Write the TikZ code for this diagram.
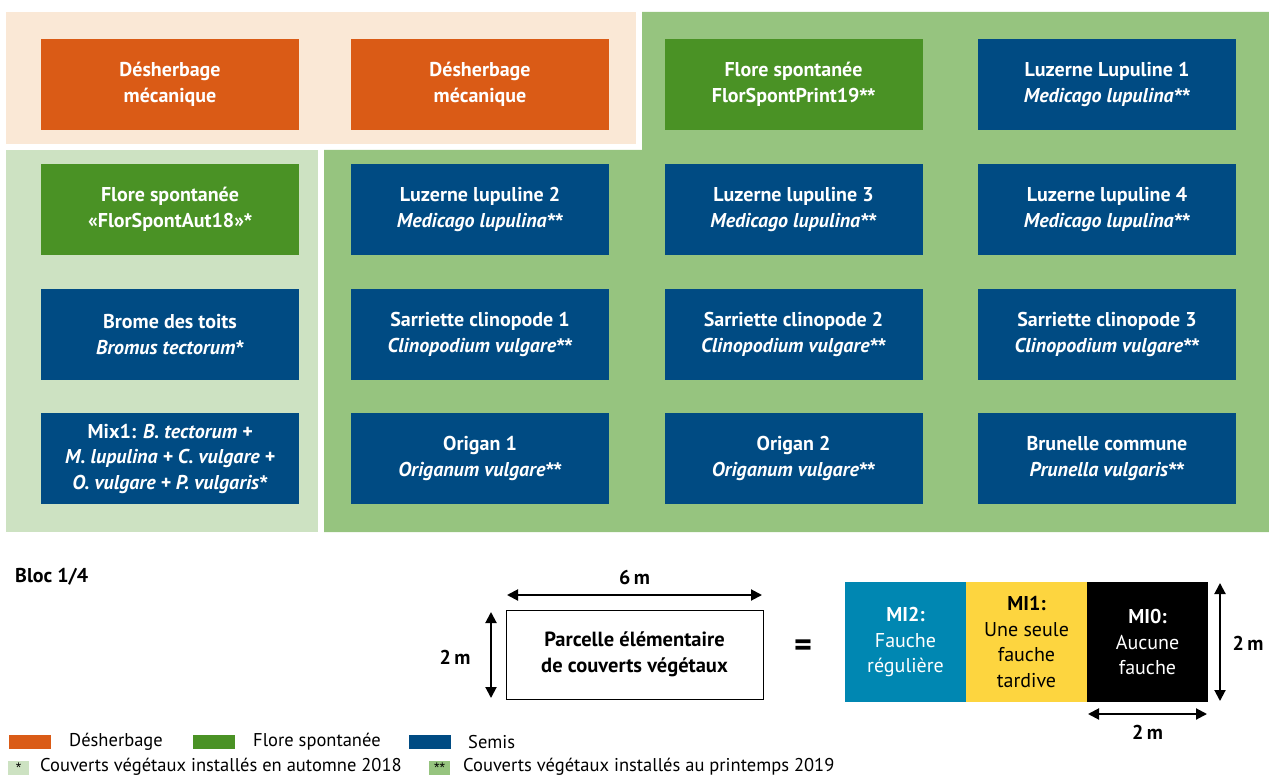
\documentclass[tikz,border=0pt]{standalone}
\usepackage{fontspec}
\setmainfont{PT Sans}
\newfontfamily\astfont{Liberation Sans}
\newcommand{\st}{{\astfont*}}
\usetikzlibrary{arrows.meta}
\definecolor{cOrange}{HTML}{DA5B16}
\definecolor{cGreen}{HTML}{4A9225}
\definecolor{cBlue}{HTML}{004B83}
\definecolor{cPeach}{HTML}{FAE8D6}
\definecolor{cLight}{HTML}{CDE2C2}
\definecolor{cDark}{HTML}{96C47F}
\definecolor{cMI}{HTML}{0087B2}
\definecolor{cYellow}{HTML}{FDD53F}
\tikzset{
  cell/.style={minimum width=258pt, minimum height=91pt, inner sep=0pt, align=center, text=white,
    font=\fontsize{20}{25.5}\selectfont\bfseries},
  dim/.style={line width=2pt, {Triangle[length=11pt,width=11pt]}-{Triangle[length=11pt,width=11pt]}},
  lbl/.style={font=\fontsize{20}{22}\selectfont\bfseries, inner sep=0pt},
  leg/.style={font=\fontsize{18.5}{20}\selectfont, inner sep=0pt, anchor=west},
  mi/.style={minimum width=121pt, minimum height=120pt, inner sep=0pt, align=center,
    font=\fontsize{20}{25.5}\selectfont},
}
\begin{document}
\begin{tikzpicture}[x=1pt,y=-1pt]
\useasboundingbox (0,0) rectangle (1269,778);
% backgrounds
\fill[cPeach] (6,12) rectangle (636,144);
\fill[cDark] (642,12) -- (1269,12) -- (1269,532) -- (324,532) -- (324,150) -- (642,150) -- cycle;
\fill[cLight] (6,150) rectangle (318,532);
% row 1
\node[cell, fill=cOrange] (d1) at (170,84.5) {Désherbage\\mécanique};
\node[cell, fill=cOrange] (d2) at (480,84.5) {Désherbage\\mécanique};
\node[cell, fill=cGreen] (f19) at (793.5,84.5) {Flore spontanée\\FlorSpontPrint19\st\st};
\node[cell, fill=cBlue] (l1) at (1107,84.5) {Luzerne Lupuline 1\\\textit{Medicago lupulina\st\st}};
% row 2
\node[cell, fill=cGreen] (f18) at (170,209.5) {Flore spontanée\\«FlorSpontAut18»\st};
\node[cell, fill=cBlue] (l2) at (480,209.5) {Luzerne lupuline 2\\\textit{Medicago lupulina\st\st}};
\node[cell, fill=cBlue] (l3) at (793.5,209.5) {Luzerne lupuline 3\\\textit{Medicago lupulina\st\st}};
\node[cell, fill=cBlue] (l4) at (1107,209.5) {Luzerne lupuline 4\\\textit{Medicago lupulina\st\st}};
% row 3
\node[cell, fill=cBlue] (b) at (170,334.5) {Brome des toits\\\textit{Bromus tectorum\st}};
\node[cell, fill=cBlue] (s1) at (480,334.5) {Sarriette clinopode 1\\\textit{Clinopodium vulgare\st\st}};
\node[cell, fill=cBlue] (s2) at (793.5,334.5) {Sarriette clinopode 2\\\textit{Clinopodium vulgare\st\st}};
\node[cell, fill=cBlue] (s3) at (1107,334.5) {Sarriette clinopode 3\\\textit{Clinopodium vulgare\st\st}};
% row 4
\node[cell, fill=cBlue] (mix) at (170,458.5) {Mix1: \textit{B. tectorum +}\\\textit{M. lupulina + C. vulgare +}\\\textit{O. vulgare + P. vulgaris\st}};
\node[cell, fill=cBlue] (o1) at (480,458.5) {Origan 1\\\textit{Origanum vulgare\st\st}};
\node[cell, fill=cBlue] (o2) at (793.5,458.5) {Origan 2\\\textit{Origanum vulgare\st\st}};
\node[cell, fill=cBlue] (pr) at (1107,458.5) {Brunelle commune\\\textit{Prunella vulgaris\st\st}};
% bottom
\node[lbl, anchor=west] (bloc) at (15,577) {Bloc 1/4};
\node[draw=black, line width=1pt, minimum width=257pt, minimum height=89pt, inner sep=0pt, align=center,
  font=\fontsize{20.5}{25.5}\selectfont\bfseries] (parc) at (634.5,654.5) {Parcelle élémentaire\\de couverts végétaux};
\coordinate (h1) at (507,595); \coordinate (h2) at (762,595);
\draw[dim] (h1) -- (h2);
\node[lbl] (six) at (634.5,577) {6\,m};
\coordinate (v1) at (491,612); \coordinate (v2) at (491,698);
\draw[dim] (v1) -- (v2);
\node[lbl] (twoA) at (455,657) {2\,m};
\node[font=\fontsize{34}{34}\selectfont\bfseries, inner sep=0pt] (eq) at (803,648) {=};
\node[mi, fill=cMI, text=white] (mi2) at (905.5,642) {\textbf{MI2:}\\Fauche\\régulière};
\node[mi, fill=cYellow, text=black] (mi1) at (1026.5,642) {\textbf{MI1:}\\Une seule\\fauche\\tardive};
\node[mi, fill=black, text=white] (mi0) at (1147.5,642) {\textbf{MI0:}\\Aucune\\fauche};
\coordinate (r1) at (1220,583); \coordinate (r2) at (1220,701);
\draw[dim] (r1) -- (r2);
\node[lbl] (twoB) at (1248,643) {2\,m};
\coordinate (b1) at (1088,714); \coordinate (b2) at (1207,714);
\draw[dim] (b1) -- (b2);
\node[lbl] (twoC) at (1147.5,732) {2\,m};
% legend
\fill[cOrange] (9,735) rectangle (51,749);
\node[leg] (lg1) at (69,742) {Désherbage};
\fill[cGreen] (193,735) rectangle (235,749);
\node[leg] (lg2) at (253,742) {Flore spontanée};
\fill[cBlue] (409,735) rectangle (451,749);
\node[leg] (lg3) at (468,742) {Semis};
\node[fill=cLight, minimum width=21pt, minimum height=14pt, inner sep=0pt, font=\fontsize{14}{14}\selectfont\astfont] (sw1) at (18.5,768) {*};
\node[leg] (lg4) at (40,767) {Couverts végétaux installés en automne 2018};
\node[fill=cDark, minimum width=21pt, minimum height=14pt, inner sep=0pt, font=\fontsize{14}{14}\selectfont\astfont] (sw2) at (439.5,768) {**};
\node[leg] (lg5) at (463,767) {Couverts végétaux installés au printemps 2019};
\end{tikzpicture}
\end{document}
